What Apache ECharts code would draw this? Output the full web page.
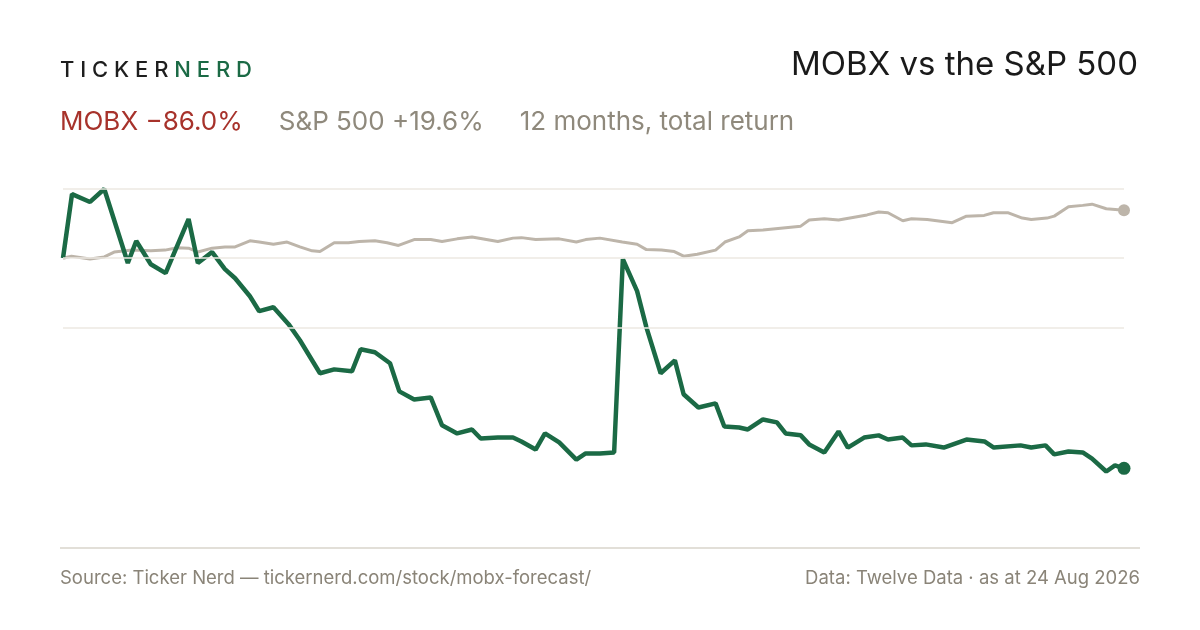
<!DOCTYPE html>
<html>
<head>
<meta charset="utf-8">
<style>
  html, body { margin: 0; padding: 0; background: #fff; }
  #chart { width: 1200px; height: 630px; }
</style>
<script src="https://cdn.jsdelivr.net/npm/echarts@6/dist/echarts.min.js"></script>
</head>
<body>
<div id="chart"></div>
<script>
// day index since start, % return
var mobxDays = [0, 3.1, 9.3, 14.2, 22.3, 25.2, 30.2, 35.3, 43.2, 46.4, 51.3, 55.7, 59.2, 64.3, 67.5, 72.4, 77.6, 81.5, 88.4, 93.3,
    99.4, 102.4, 107.3, 112.5, 115.7, 120.8, 126.5, 130.4, 135.6, 140.7, 143.7, 149.6, 154.8, 157.7, 162.6, 165.8, 170.7, 176.6, 179.8, 184.7,
    189.6, 192.6, 197.5, 200.7, 205.6, 210.5, 213.5, 218.6, 224.5, 227.5, 232.6, 235.6, 240.8, 245.6, 248.6, 253.8, 256.7, 261.9, 266.8, 270.0,
    275.6, 280.6, 283.8, 288.9, 291.9, 296.8, 303.0, 310.8, 317.0, 320.2, 329.4, 333.1, 338.0, 341.0, 345.9, 350.8, 354.0, 358.9, 361.9, 365];
var mobxReturn = [0, 26.2, 23.0, 28.3, -2.0, 7.0, -2.5, -6.1, 16.0, -2.0, 2.5, -4.5, -8.2, -15.6, -21.7, -20.1, -27.0, -33.6, -47.1, -45.5,
    -46.3, -37.3, -38.5, -43.0, -54.5, -57.8, -57.0, -68.4, -71.7, -70.1, -73.8, -73.4, -73.4, -75.0, -78.3, -71.7, -75.4, -82.4, -79.9, -79.9,
    -79.5, -0.4, -13.5, -28.3, -47.1, -41.8, -55.7, -61.1, -59.4, -68.9, -69.3, -70.1, -66.0, -67.2, -71.7, -72.5, -76.2, -79.5, -70.9, -77.5,
    -73.4, -72.5, -74.2, -73.4, -76.6, -76.2, -77.5, -74.2, -75.0, -77.5, -76.6, -77.5, -76.6, -80.3, -79.1, -79.5, -82.0, -87.3, -84.8, -86.0];

var spxDays = [0, 2.9, 9.3, 14.2, 17.6, 23.8, 30.2, 35.1, 39.3, 43.2, 46.4, 51.3, 55.7, 59.2, 64.3, 67.5, 72.4, 77.1, 81.5, 85.7,
    88.4, 93.3, 98.2, 101.9, 107.3, 111.5, 115.4, 120.8, 126.5, 130.4, 135.6, 140.7, 149.6, 154.8, 157.7, 162.6, 170.7, 176.6, 179.8, 184.7,
    192.4, 197.5, 200.7, 205.9, 210.3, 213.5, 218.2, 224.5, 227.7, 232.6, 235.6, 240.8, 253.8, 256.7, 261.9, 266.8, 276.6, 280.6, 283.8, 288.9,
    291.9, 297.3, 305.9, 310.8, 316.9, 320.1, 325.0, 330.0, 333.1, 338.5, 341.0, 345.9, 350.8, 354.0, 358.9, 365];
var spxReturn = [0, 0.8, -0.3, 0.5, 2.5, 3.3, 3.0, 3.3, 4.3, 4.1, 2.5, 4.1, 4.6, 4.6, 7.1, 6.6, 5.7, 6.6, 4.6, 3.0,
    2.7, 6.3, 6.3, 6.8, 7.1, 6.3, 5.2, 7.6, 7.6, 6.8, 7.9, 8.7, 6.8, 8.2, 8.4, 7.6, 7.9, 6.6, 7.6, 8.2,
    6.6, 5.7, 3.5, 3.3, 2.7, 0.8, 1.6, 3.3, 6.6, 8.7, 11.2, 11.5, 13.1, 15.6, 16.1, 15.6, 17.7, 18.9, 18.6, 15.3,
    16.1, 15.8, 14.5, 17.2, 17.5, 18.6, 18.6, 16.4, 15.8, 16.4, 17.2, 21.0, 21.6, 22.1, 20.2, 19.6];

var gridValues = [28.3, 0, -28.3];

var green = '#1b6a45';
var stone = '#bdb5aa';

function pairs(xs, ys) {
    return xs.map(function (x, i) { return [x, ys[i]]; });
}
var mobxData = pairs(mobxDays, mobxReturn);
var spxData = pairs(spxDays, spxReturn);

var chart = echarts.init(document.getElementById('chart'));
chart.setOption({
    backgroundColor: '#fff',
    animation: false,
    grid: { left: 63, right: 76, top: 189, bottom: 103 },
    xAxis: { type: 'value', min: 0, max: 365, show: false },
    yAxis: { type: 'value', min: -110, max: 28.3, show: false },
    graphic: [
        {
            type: 'text', left: 60, top: 59,
            style: {
                text: '{a|T I C K E R}{b| N E R D}',
                rich: {
                    a: { fill: '#1e1e1e', font: '500 22px Inter' },
                    b: { fill: green, font: '500 22px Inter' }
                }
            }
        },
        {
            type: 'text', right: 62, top: 49,
            style: { text: 'MOBX vs the S&P 500', fill: '#1a1a1a', font: '33px Inter' }
        },
        {
            type: 'text', left: 60, top: 109,
            style: {
                text: '{r|MOBX \u221286.0%}{s|}{g|S&P 500 +19.6%}{s|}{g|12 months, total return}',
                rich: {
                    r: { fill: '#a7322b', fontFamily: 'Inter', fontSize: 26 },
                    g: { fill: '#8f897c', fontFamily: 'Inter', fontSize: 26 },
                    s: { width: 36 }
                }
            }
        },
        {
            type: 'line', shape: { x1: 60, y1: 548, x2: 1140, y2: 548 },
            style: { stroke: '#d9d4cb', lineWidth: 1.5 }
        },
        {
            type: 'text', left: 60, top: 569,
            style: { text: 'Source: Ticker Nerd \u2014 tickernerd.com/stock/mobx-forecast/', fill: '#8a8478', fontFamily: 'Inter', fontSize: 18.5 }
        },
        {
            type: 'text', right: 60, top: 569,
            style: { text: 'Data: Twelve Data \u00b7 as at 24 Aug 2026', fill: '#8a8478', fontFamily: 'Inter', fontSize: 18.5 }
        }
    ],
    series: [
        {
            name: 'S&P 500',
            type: 'line',
            data: spxData,
            symbol: 'none',
            lineStyle: { color: stone, width: 3 },
            z: 2,
            markLine: {
                silent: true,
                symbol: 'none',
                label: { show: false },
                lineStyle: { color: '#ece8e2', width: 1.5, type: 'solid' },
                data: gridValues.map(function (v) { return { yAxis: v }; })
            }
        },
        {
            name: 'MOBX',
            type: 'line',
            data: mobxData,
            symbol: 'none',
            lineStyle: { color: green, width: 4.5 },
            z: 3
        },
        {
            type: 'scatter',
            data: [spxData[spxData.length - 1]],
            symbolSize: 12,
            itemStyle: { color: stone, opacity: 1 },
            z: 4
        },
        {
            type: 'scatter',
            data: [mobxData[mobxData.length - 1]],
            symbolSize: 13,
            itemStyle: { color: green, opacity: 1 },
            z: 4
        }
    ]
});
</script>
</body>
</html>
